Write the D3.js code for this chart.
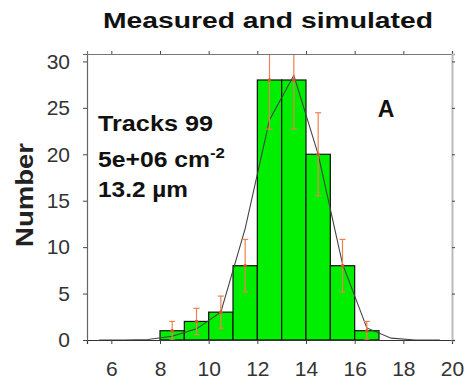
<!DOCTYPE html>
<html>
<head>
<meta charset="utf-8">
<script src="https://cdn.jsdelivr.net/npm/d3@7"></script>
<style>
  body { margin: 0; background: #fff; }
  svg { display: block; font-family: "Liberation Sans", Arial, sans-serif; }
</style>
</head>
<body>
<svg id="chart" width="466" height="391"></svg>
<script>
// measured histogram (bin left edges, counts) + poisson errors
var binStarts = [8, 9, 10, 11, 12, 13, 14, 15, 16];
var counts = [1, 2, 3, 8, 28, 28, 20, 8, 1];
var errors = [1, 1.41, 1.73, 2.83, 5.29, 5.29, 4.47, 2.83, 1];
// simulated curve, read at bin centres
var simX = [5.5, 6.5, 7.5, 8.5, 9.5, 10.5, 11.5, 12.5, 13.5, 14.5, 15.5, 16.5, 17.5, 18.5, 19.5];
var simY = [0, 0, 0.05, 0.4, 1.2, 3, 12, 23.7, 28.5, 20, 8.2, 1.3, 0.2, 0, 0];
var xTicks = [6, 8, 10, 12, 14, 16, 18, 20];
var yTicks = [0, 5, 10, 15, 20, 25, 30];
var infoLines = ["Tracks 99", "5e+06 cm", "13.2 µm"];

var svg = d3.select('#chart'),
    margin = {top: 54, right: 14, bottom: 51, left: 87},
    width = 466, height = 391;

var x = d3.scaleLinear().domain([5, 20]).range([margin.left, width - margin.right]);
var y = d3.scaleLinear().domain([0, 30.8]).range([height - margin.bottom, margin.top]);

svg.append('defs').append('clipPath').attr('id', 'plotclip')
  .append('rect')
  .attr('x', margin.left).attr('y', margin.top)
  .attr('width', x(20) - x(5)).attr('height', y(0) - y(30.8));

// bars
svg.append('g')
  .selectAll('rect')
  .data(counts)
  .enter().append('rect')
  .attr('x', function(d, i){ return x(binStarts[i]); })
  .attr('y', function(d){ return y(d); })
  .attr('width', function(d, i){ return x(binStarts[i] + 1) - x(binStarts[i]); })
  .attr('height', function(d){ return y(0) - y(d); })
  .attr('fill', '#00ee00')
  .attr('stroke', '#111')
  .attr('stroke-width', 1.2);

// simulated line
var line = d3.line()
  .x(function(d, i){ return x(simX[i]); })
  .y(function(d){ return y(d); });

svg.append('path')
  .datum(simY)
  .attr('fill', 'none')
  .attr('stroke', '#444')
  .attr('stroke-width', 1.1)
  .attr('d', line);

// error bars
var eb = svg.append('g').attr('clip-path', 'url(#plotclip)');
counts.forEach(function(c, i){
  var cx = x(binStarts[i] + 0.5);
  var lo = y(Math.max(0, c - errors[i])), hi = y(c + errors[i]);
  eb.append('line').attr('x1', cx).attr('x2', cx).attr('y1', lo).attr('y2', hi)
    .attr('stroke', '#f08050').attr('stroke-width', 1.2);
  [lo, hi].forEach(function(yy){
    eb.append('line').attr('x1', cx - 3).attr('x2', cx + 3).attr('y1', yy).attr('y2', yy)
      .attr('stroke', '#f08050').attr('stroke-width', 1.2);
  });
  eb.append('circle').attr('cx', cx).attr('cy', y(c)).attr('r', 1.8).attr('fill', '#e0502a');
});

// axes
var xAxis = d3.axisBottom(x).tickValues(xTicks).tickSize(4).tickPadding(17);
var yAxis = d3.axisLeft(y).tickValues(yTicks).tickSize(4).tickPadding(13);

var gx = svg.append('g').attr('transform', `translate(0, ${y(0)})`).call(xAxis);
var gy = svg.append('g').attr('transform', `translate(${margin.left}, 0)`).call(yAxis);
var gxt = svg.append('g').attr('transform', `translate(0, ${margin.top})`)
  .call(d3.axisTop(x).tickValues(xTicks).tickSize(3).tickFormat(''));
var gyr = svg.append('g').attr('transform', `translate(${width - margin.right}, 0)`)
  .call(d3.axisRight(y).tickValues(yTicks).tickSize(3).tickFormat(''));

[gx, gy].forEach(function(g){
  g.selectAll('text').attr('font-size', 21).attr('fill', '#333')
    .attr('font-family', '"Liberation Sans", Arial, sans-serif');
  g.selectAll('line').attr('stroke', '#444');
});
gx.select('.domain').attr('stroke', '#333').attr('stroke-width', 1.2);
gy.select('.domain').attr('stroke', '#666').attr('stroke-width', 1.2);
gxt.select('.domain').attr('stroke', '#777').attr('stroke-width', 1.2);
gyr.select('.domain').attr('stroke', '#bbb').attr('stroke-width', 2);
gxt.selectAll('line').attr('stroke', '#444');
gyr.selectAll('line').attr('stroke', '#444');

// title
svg.append('text')
  .attr('x', 268).attr('y', 28)
  .attr('text-anchor', 'middle')
  .attr('font-size', 22).attr('font-weight', 'bold')
  .attr('textLength', 330).attr('lengthAdjust', 'spacingAndGlyphs')
  .attr('fill', '#111')
  .text('Measured and simulated');

// y-axis label
svg.append('text')
  .attr('transform', 'translate(33, 195) rotate(-90)')
  .attr('text-anchor', 'middle')
  .attr('font-size', 24).attr('font-weight', 'bold')
  .attr('textLength', 104).attr('lengthAdjust', 'spacingAndGlyphs')
  .attr('fill', '#222')
  .text('Number');

// info text
var info = svg.append('g').attr('font-size', 22).attr('font-weight', 'bold').attr('fill', '#111');
var infoY = [131, 167, 197];
var infoW = [115, 127, 90];
infoLines.forEach(function(t, i){
  var tx = info.append('text').attr('x', 98).attr('y', infoY[i])
    .attr('textLength', infoW[i]).attr('lengthAdjust', 'spacingAndGlyphs').text(t);
  if (i === 1) tx.append('tspan').attr('dy', -9).attr('font-size', 15).text('-2');
});

svg.append('text')
  .attr('x', 386).attr('y', 117)
  .attr('text-anchor', 'middle')
  .attr('font-size', 23).attr('font-weight', 'bold').attr('fill', '#111')
  .text('A');
</script>
</body>
</html>
